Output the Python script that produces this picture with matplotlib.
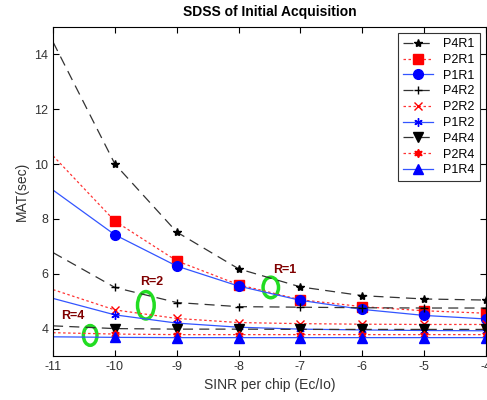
import matplotlib
matplotlib.use("Agg")
from matplotlib import pyplot as plt
from matplotlib.patches import Ellipse

plt.rcParams["font.family"] = ["Liberation Sans", "DejaVu Sans"]
plt.rcParams["axes.unicode_minus"] = False

SINR = [-11, -10, -9, -8, -7, -6, -5, -4]

P4R1 = [14.45, 10.0, 7.52, 6.18, 5.52, 5.2, 5.08, 5.04]
P2R1 = [10.3, 7.92, 6.47, 5.6, 5.05, 4.8, 4.65, 4.56]
P1R1 = [9.05, 7.42, 6.28, 5.55, 5.03, 4.7, 4.48, 4.35]
P4R2 = [6.77, 5.5, 4.95, 4.8, 4.78, 4.76, 4.75, 4.75]
P2R2 = [5.42, 4.68, 4.37, 4.22, 4.18, 4.16, 4.15, 4.15]
P1R2 = [5.1, 4.5, 4.2, 4.05, 3.98, 3.95, 3.93, 3.92]
P4R4 = [4.1, 4.0, 3.98, 3.98, 3.97, 3.97, 3.97, 3.97]
P2R4 = [3.85, 3.8, 3.78, 3.78, 3.78, 3.78, 3.78, 3.78]
P1R4 = [3.7, 3.68, 3.67, 3.67, 3.67, 3.67, 3.67, 3.67]

# label, data, line color, linestyle, marker, marker color
SERIES = [
    ("P4R1", P4R1, "#333333", (0, (8, 5)), "*", "k"),
    ("P2R1", P2R1, "#ff3333", (0, (2, 2)), "s", "r"),
    ("P1R1", P1R1, "#3355ff", "-", "o", "b"),
    ("P4R2", P4R2, "#333333", (0, (8, 5)), "+", "k"),
    ("P2R2", P2R2, "#ff3333", (0, (2, 2)), "x", "r"),
    ("P1R2", P1R2, "#3355ff", "-", (6, 2, 0), "b"),
    ("P4R4", P4R4, "#333333", (0, (8, 5)), "v", "k"),
    ("P2R4", P2R4, "#ff3333", (0, (2, 2)), (6, 1, 0), "r"),
    ("P1R4", P1R4, "#3355ff", "-", "^", "b"),
]

ANNOTATIONS = [("R=1", -7.25, 6.15), ("R=2", -9.4, 5.7), ("R=4", -10.68, 4.45)]
CIRCLES = [(-7.48, 5.5, 0.25, 0.75), (-9.5, 4.85, 0.27, 1.0), (-10.4, 3.75, 0.22, 0.72)]

fig = plt.figure(figsize=(4.87, 4.0), dpi=100)
ax = fig.add_axes([0.109, 0.11, 0.889, 0.8225])

for label, vals, color, ls, marker, mcolor in SERIES:
    ms = 6
    if marker in ("s", "o", "v", "^"):
        ms = 7
    ax.plot(SINR, vals, color=color, linestyle=ls, linewidth=0.9,
            marker=marker, markevery=list(range(1, len(SINR))),
            markersize=ms, markerfacecolor=mcolor, markeredgecolor=mcolor,
            label=label)

for text, x, y in ANNOTATIONS:
    ax.text(x, y, text, color="#800000", fontweight="bold", fontsize=9,
            ha="center", va="center")

for x, y, w, h in CIRCLES:
    ax.add_patch(Ellipse((x, y), w, h, fill=False, edgecolor="#22dd22",
                         linewidth=2.5))

ax.set_xlim(-11, -4)
ax.set_ylim(3, 15)
ax.set_xticks(SINR)
ax.set_yticks([4, 6, 8, 10, 12, 14])
ax.tick_params(direction="in", top=True, right=True, labelsize=9,
               labelcolor="#333333", length=4)
ax.set_xlabel("SINR per chip (Ec/Io)", fontsize=10, color="#333333")
ax.set_ylabel("MAT(sec)", fontsize=10, color="#333333")
ax.set_title("SDSS of Initial Acquisition", fontsize=10, fontweight="bold", pad=8)

leg = ax.legend(loc="upper right", fontsize=9, fancybox=False,
                framealpha=1, edgecolor="#333333", handlelength=2.4,
                borderaxespad=0.5, labelspacing=0.3)
leg.get_frame().set_linewidth(0.8)

fig.savefig("out.png", dpi=100)
